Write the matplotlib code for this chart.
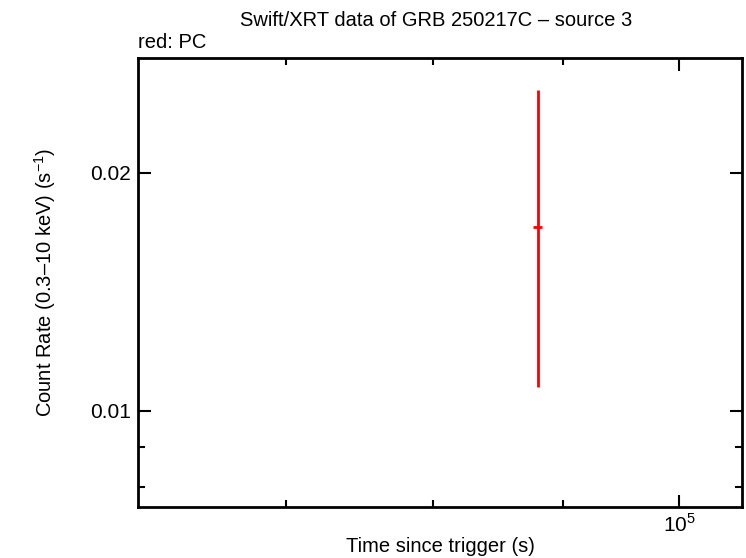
import numpy as np
import matplotlib
matplotlib.use("Agg")
import matplotlib.pyplot as plt
from matplotlib.ticker import FixedLocator, NullFormatter

# PC mode data point (time since trigger, count rate)
pc_time = [8.80e4]
pc_time_lo = [4.2e2]
pc_time_hi = [2.7e2]
pc_rate = [0.01705]
pc_rate_lo = [0.01705 - 0.01072]
pc_rate_hi = [0.02542 - 0.01705]

x_major = [1e5]
x_major_labels = [r"$10^5$"]
x_minor = [7e4, 8e4, 9e4]
y_major = [0.01, 0.02]
y_major_labels = ["0.01", "0.02"]
y_minor = [0.008, 0.009]

plt.rcParams["font.family"] = ["Liberation Sans", "DejaVu Sans"]
plt.rcParams["mathtext.fontset"] = "custom"
plt.rcParams["mathtext.rm"] = "Liberation Sans"

W, H = 746, 558
fig = plt.figure(figsize=(W / 100, H / 100), dpi=100, facecolor="white")
ax = fig.add_axes([0.1854, 0.0919, 0.9942 - 0.1854, 0.896 - 0.0919])

ax.errorbar(pc_time, pc_rate,
            xerr=[pc_time_lo, pc_time_hi], yerr=[pc_rate_lo, pc_rate_hi],
            fmt="none", ecolor="#ff0000", elinewidth=2.0, capsize=0)

ax.set_xscale("log")
ax.set_yscale("log")
ax.set_xlim(6.124e4, 1.0582e5)
ax.set_ylim(0.00756, 0.02791)

ax.xaxis.set_major_locator(FixedLocator(x_major))
ax.set_xticklabels(x_major_labels)
ax.xaxis.set_minor_locator(FixedLocator(x_minor))
ax.xaxis.set_minor_formatter(NullFormatter())
ax.yaxis.set_major_locator(FixedLocator(y_major))
ax.set_yticklabels(y_major_labels)
ax.yaxis.set_minor_locator(FixedLocator(y_minor))
ax.yaxis.set_minor_formatter(NullFormatter())

ax.tick_params(which="both", direction="in", top=True, right=True,
               width=1.5, labelsize=15, pad=5)
ax.tick_params(which="major", length=9)
ax.tick_params(which="minor", length=5)
for s in ax.spines.values():
    s.set_linewidth(2.0)

# labels placed by pixel position to match the reference layout
fig.text(440 / W, 1 - 547 / H, "Time since trigger (s)",
         ha="center", va="center", fontsize=14.5)
fig.text(45 / W, 1 - 282 / H, "Count Rate (0.3\u201310 keV) (s$^{-1}$)",
         ha="center", va="center", rotation=90, fontsize=14.5)
fig.text(436 / W, 1 - 20 / H, "Swift/XRT data of GRB 250217C \u2013 source 3",
         ha="center", va="center", fontsize=14.5)
fig.text(138 / W, 1 - 42 / H, "red: PC", ha="left", va="center", fontsize=14.5)

fig.savefig("out.png", dpi=100, facecolor="white")
